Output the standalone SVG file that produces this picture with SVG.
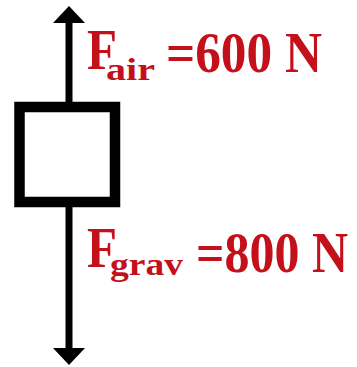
<svg xmlns="http://www.w3.org/2000/svg" width="357" height="367" viewBox="0 0 357 367">
<style>
.lbl{font-family:"Liberation Serif","Times New Roman",serif;font-weight:bold;fill:#c4101a;font-size:50px}
.sub{font-size:28px}
.force{stroke:#000;stroke-width:7;fill:none}
</style>
<defs>
<marker id="ah" markerUnits="userSpaceOnUse" viewBox="0 0 17 32" markerWidth="17" markerHeight="32" refX="3" refY="16" orient="auto">
<path d="M0,0 L17,16 L0,32 z" fill="#000"/>
</marker>
</defs>
<rect width="357" height="367" fill="#fff"/>
<g id="connectors">
<path class="force" d="M69,102 L69,20" marker-end="url(#ah)"/>
<path class="force" d="M69,207 L69,351" marker-end="url(#ah)"/>
</g>
<g id="box">
<rect x="19.5" y="107" width="95.5" height="95" fill="#fff" stroke="#000" stroke-width="10.5"/>
</g>
<g id="label-air" transform="translate(0,71) scale(1,1.16)">
<text class="lbl" x="87" y="-1.7" textLength="30" lengthAdjust="spacingAndGlyphs">F</text>
<text class="lbl sub" x="106" y="7.8" textLength="49" lengthAdjust="spacingAndGlyphs">air</text>
<text class="lbl" x="166" y="0.9" textLength="156" lengthAdjust="spacingAndGlyphs">=600 N</text>
</g>
<g id="label-grav" transform="translate(0,270) scale(1,1.16)">
<text class="lbl" x="87" y="-2.6" textLength="30" lengthAdjust="spacingAndGlyphs">F</text>
<text class="lbl sub" x="110" y="4.3" textLength="73" lengthAdjust="spacingAndGlyphs">grav</text>
<text class="lbl" x="196" y="1.7" textLength="152" lengthAdjust="spacingAndGlyphs">=800 N</text>
</g>
</svg>
